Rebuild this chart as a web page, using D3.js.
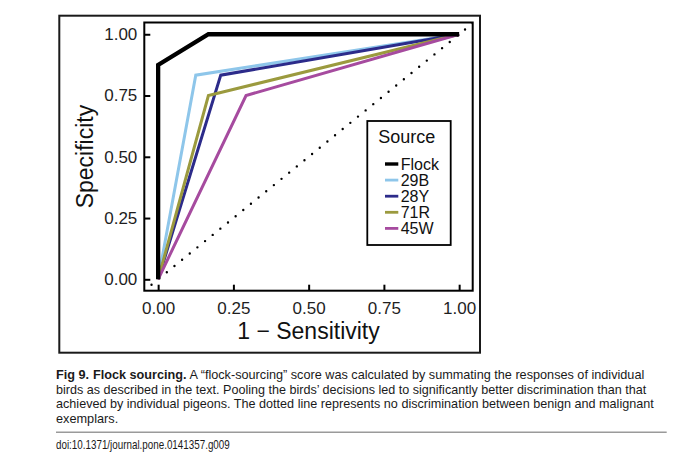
<!DOCTYPE html>
<html>
<head>
<meta charset="utf-8">
<script src="https://cdn.jsdelivr.net/npm/d3@7"></script>
<style>
  html, body { margin: 0; padding: 0; background: #fff; }
  svg { display: block; font-family: "Liberation Sans", Arial, Helvetica, sans-serif; }
</style>
</head>
<body>
<svg id="chart" width="680" height="462"></svg>
<script>
// ROC curves, flock vs individual birds

const tickValues = [0, 0.25, 0.5, 0.75, 1];
const tickLabels = ['0.00', '0.25', '0.50', '0.75', '1.00'];

const sources = ['Flock', '29B', '28Y', '71R', '45W'];
const colors = ['#000000', '#8ec6ea', '#2c2b8a', '#9b9a3e', '#a64b9f'];

// 1 - sensitivity (x) and specificity (y) per source
const flockX = [0, 0, 0.167, 1];
const flockY = [0, 0.875, 1, 1];
const b29X = [0, 0.125, 1];
const b29Y = [0, 0.833, 1];
const y28X = [0, 0.208, 1];
const y28Y = [0, 0.833, 1];
const r71X = [0, 0.167, 1];
const r71Y = [0, 0.75, 1];
const w45X = [0, 0.292, 1];
const w45Y = [0, 0.75, 1];

// no-discrimination diagonal y = x, across the panel
const chanceLine = [-0.022, 1.045];

const caption = [
  'A \u201cflock-sourcing\u201d score was calculated by summating the responses of individual',
  'birds as described in the text. Pooling the birds\u2019 decisions led to significantly better discrimination than that',
  'achieved by individual pigeons. The dotted line represents no discrimination between benign and malignant',
  'exemplars.'
];
const doi = 'doi:10.1371/journal.pone.0141357.g009';

// --- layout ---
const panel = { left: 144.3, right: 472.7, top: 22.5, bottom: 290.7 };

const x = d3.scaleLinear().domain([-0.046, 1.045]).range([panel.left, panel.right]);
const y = d3.scaleLinear().domain([-0.0465, 1.048]).range([panel.bottom, panel.top]);

const svg = d3.select('#chart');

// outer figure frame
svg.append('rect')
  .attr('x', 59.3).attr('y', 15.7)
  .attr('width', 480 - 59.3).attr('height', 352.7 - 15.7)
  .attr('fill', 'none').attr('stroke', '#1a1a1a').attr('stroke-width', 2);

// clip for panel
svg.append('clipPath').attr('id', 'clip')
  .append('rect')
  .attr('x', panel.left).attr('y', panel.top)
  .attr('width', panel.right - panel.left).attr('height', panel.bottom - panel.top);

const plot = svg.append('g').attr('clip-path', 'url(#clip)');

// dotted chance line
plot.append('path')
  .attr('d', d3.line().x(d => x(d)).y(d => y(d))(chanceLine))
  .attr('fill', 'none')
  .attr('stroke', '#000')
  .attr('stroke-width', 2.4)
  .attr('stroke-linecap', 'round')
  .attr('stroke-dasharray', '0 9.86');

// series
const series = [
  { name: '29B', xs: b29X, ys: b29Y, width: 3 },
  { name: '28Y', xs: y28X, ys: y28Y, width: 3 },
  { name: '71R', xs: r71X, ys: r71Y, width: 3 },
  { name: '45W', xs: w45X, ys: w45Y, width: 3 },
  { name: 'Flock', xs: flockX, ys: flockY, width: 4.3 }
];

const line = d3.line().x(d => x(d[0])).y(d => y(d[1]));

series.forEach(s => {
  const pts = s.xs.map((v, i) => [v, s.ys[i]]);
  plot.append('path')
    .attr('d', line(pts))
    .attr('fill', 'none')
    .attr('stroke', colors[sources.indexOf(s.name)])
    .attr('stroke-width', s.width)
    .attr('stroke-linejoin', 'miter')
    .attr('stroke-linecap', 'butt');
});

// axes (ticks point inward)
const xAxis = svg.append('g')
  .attr('transform', `translate(0,${panel.bottom})`)
  .call(d3.axisBottom(x).tickValues(tickValues).tickFormat((d, i) => tickLabels[i])
    .tickSize(-6).tickPadding(11));

const yAxis = svg.append('g')
  .attr('transform', `translate(${panel.left},0)`)
  .call(d3.axisLeft(y).tickValues(tickValues).tickFormat((d, i) => tickLabels[i])
    .tickSize(-6).tickPadding(7));

[xAxis, yAxis].forEach(a => {
  a.select('.domain').remove();
  a.selectAll('.tick line').attr('stroke', '#000').attr('stroke-width', 2);
  a.selectAll('.tick text')
    .attr('fill', '#1e1e1e')
    .style('font-size', '17px')
    .style('font-family', '"Liberation Sans", Arial, sans-serif');
});

// panel border
svg.append('rect')
  .attr('x', panel.left).attr('y', panel.top)
  .attr('width', panel.right - panel.left).attr('height', panel.bottom - panel.top)
  .attr('fill', 'none').attr('stroke', '#000').attr('stroke-width', 2);

// axis titles
svg.append('text')
  .attr('x', (panel.left + panel.right) / 2)
  .attr('y', 339.3)
  .attr('text-anchor', 'middle')
  .style('font-size', '23px')
  .attr('fill', '#111')
  .text('1 \u2212 Sensitivity');

svg.append('text')
  .attr('transform', `translate(93.3,${(panel.top + panel.bottom) / 2}) rotate(-90)`)
  .attr('text-anchor', 'middle')
  .style('font-size', '23px')
  .attr('fill', '#111')
  .text('Specificity');

// legend
const legend = svg.append('g');
legend.append('rect')
  .attr('x', 367.3).attr('y', 121)
  .attr('width', 450.7 - 367.3).attr('height', 245 - 121)
  .attr('fill', '#fff').attr('stroke', '#000').attr('stroke-width', 1.8);

legend.append('text')
  .attr('x', 378.3).attr('y', 143.3)
  .style('font-size', '18px')
  .attr('fill', '#111')
  .text('Source');

const rowY = d3.scalePoint().domain(sources).range([164, 228.4]);

sources.forEach((name, i) => {
  legend.append('line')
    .attr('x1', 385).attr('x2', 398.3)
    .attr('y1', rowY(name)).attr('y2', rowY(name))
    .attr('stroke', colors[i])
    .attr('stroke-width', name === 'Flock' ? 3.4 : 2.8);
  legend.append('text')
    .attr('x', 400.7).attr('y', rowY(name))
    .attr('dy', '0.36em')
    .style('font-size', '16px')
    .attr('fill', '#111')
    .text(name);
});

// --- caption ---
const capBase = [379, 393.5, 408, 422.5];
const capWidths = [589, 591.3, 599, 62.3];

function fitLine(sel, targetW, x0, y0) {
  const w = sel.node().getBBox().width;
  sel.attr('transform', `translate(${x0},${y0}) scale(${targetW / w},1)`);
}

caption.forEach((txt, i) => {
  const t = svg.append('text')
    .attr('x', 0).attr('y', 0)
    .style('font-size', '13px')
    .attr('fill', '#1a1a1a');
  if (i === 0) {
    t.append('tspan').style('font-weight', 'bold').text('Fig 9.');
    t.append('tspan').style('font-weight', 'bold').attr('dx', 4).text('Flock sourcing.');
    t.append('tspan').text(' ' + txt);
  } else {
    t.text(txt);
  }
  fitLine(t, capWidths[i], 56, capBase[i]);
});

svg.append('line')
  .attr('x1', 56).attr('x2', 666.7)
  .attr('y1', 432.3).attr('y2', 432.3)
  .attr('stroke', '#9a9a9a').attr('stroke-width', 1.5);

const doiText = svg.append('text')
  .attr('x', 0).attr('y', 0)
  .style('font-size', '12.5px')
  .attr('fill', '#1a1a1a')
  .text(doi);
fitLine(doiText, 174, 56, 449);
</script>
</body>
</html>
